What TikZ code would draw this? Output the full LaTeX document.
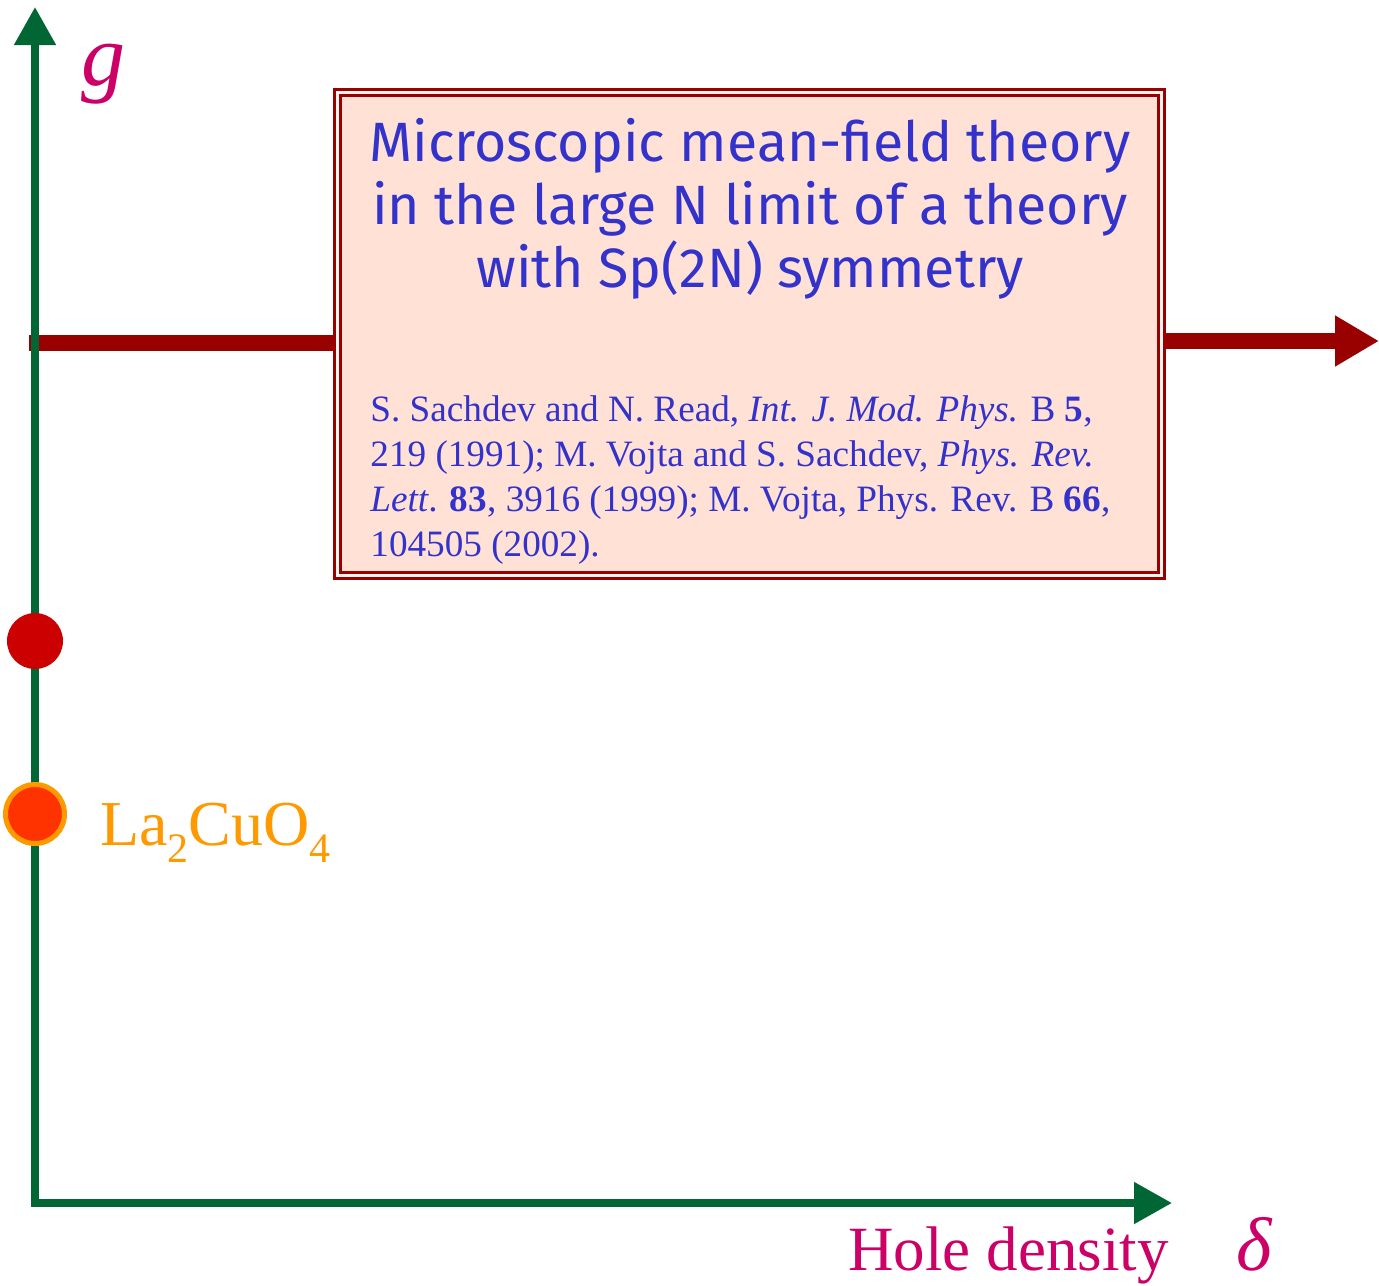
\documentclass[tikz,border=0pt]{standalone}
\usepackage{fontspec}
\setmainfont{Liberation Serif}
\newfontfamily\titlefont{Fira Sans}
\usetikzlibrary{arrows.meta}
\definecolor{axisgreen}{HTML}{006633}
\definecolor{labelmag}{HTML}{CC0066}
\definecolor{darkred}{HTML}{990000}
\definecolor{boxfill}{HTML}{FFE1D6}
\definecolor{txtblue}{HTML}{3333CC}
\definecolor{dotred}{HTML}{CC0000}
\definecolor{laorange}{HTML}{FF9900}
\definecolor{lafill}{HTML}{FF3300}
\newcommand{\lowsub}[1]{\raisebox{-0.28em}{\fontsize{21}{21}\selectfont #1}}
\tikzset{
  axisline/.style={draw=axisgreen, line width=4pt, -{Triangle[length=19pt,width=20pt]}},
  redline/.style={draw=darkred, line width=8pt},
  theorybox/.style={draw=darkred, line width=1.5pt, double=white!60!boxfill, double distance=1.6pt, fill=boxfill, minimum width=412pt, minimum height=241.5pt, inner sep=0pt},
  titletext/.style={text=txtblue, font=\titlefont\fontsize{27.7}{31.5}\selectfont, align=center, inner sep=0pt},
  citetext/.style={text=txtblue, font=\fontsize{18.6}{22.5}\selectfont, align=left, inner sep=0pt},
  axislabel/.style={text=labelmag, inner sep=0pt},
}
\begin{document}
\begin{tikzpicture}[x=0.5pt,y=-0.5pt]
\useasboundingbox (0,0) rectangle (1379,1285);
% coordinates
\coordinate (origin) at (35,1203);
\coordinate (gtip) at (35,7);
\coordinate (dtip) at (1172,1203);
\coordinate (rstart) at (29,343);
\coordinate (rend) at (1379,341);
% box
\node[theorybox] (box) at (749.5,334) {};
% red line
\draw[redline] (rstart) -- (rstart -| box.west);
\draw[redline, -{Triangle[length=22pt,width=24pt]}] (box.east |- rend) -- (rend);
% axes
\draw[axisline] (origin) -- (gtip);
\draw[axisline] ([xshift=-2pt]origin) -- (dtip);
% box texts
\node[titletext] (title) at (750,209) {Microscopic mean-field theory\\in the large N limit of a theory\\with Sp(2N) symmetry};
\node[citetext, anchor=base west] (cite) at (370,556) {S. Sachdev and N. Read, \textit{Int. J. Mod. Phys.} B \textbf{5},\\219 (1991); M. Vojta and S. Sachdev, \textit{Phys. Rev.}\\\textit{Lett}. \textbf{83}, 3916 (1999); M. Vojta, Phys. Rev. B \textbf{66},\\104505 (2002).};
% dots
\node[circle, fill=dotred, minimum size=28pt, inner sep=0pt] (reddot) at (35,641) {};
\node[circle, fill=lafill, draw=laorange, line width=2.5pt, minimum size=29.5pt, inner sep=0pt] (ladot) at (35,814) {};
% labels
\node[text=laorange, anchor=base west, inner sep=0pt, font=\fontsize{32}{32}\selectfont] (lalabel) at (100,845) {La\lowsub{2}CuO\lowsub{4}};
\node[axislabel, font=\itshape\fontsize{44}{44}\selectfont] (glabel) at (103,74) {g};
\node[axislabel, anchor=base west, font=\fontsize{31.5}{31.5}\selectfont] (hole) at (848,1270) {Hole density};
\node[axislabel, anchor=base, font=\itshape\fontsize{38}{38}\selectfont] (delta) at (1254,1270) {δ};
\end{tikzpicture}
\end{document}
